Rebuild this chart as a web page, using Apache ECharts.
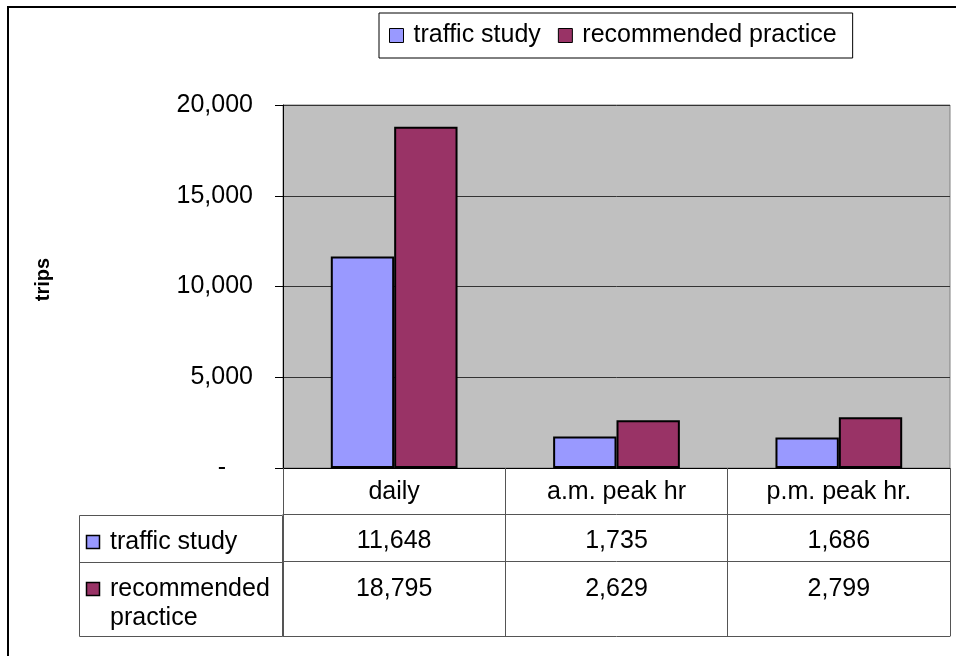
<!DOCTYPE html>
<html>
<head>
<meta charset="utf-8">
<script src="https://cdn.jsdelivr.net/npm/echarts@6/dist/echarts.min.js"></script>
<style>
  html, body { margin: 0; padding: 0; background: #fff; }
  #chart { width: 956px; height: 656px; }
</style>
</head>
<body>
<div id="chart"></div>
<script>
// Trip generation: traffic study vs. recommended practice
const categories = ['daily', 'a.m. peak hr', 'p.m. peak hr.'];
const seriesNames = ['traffic study', 'recommended practice'];
const tableRowLabels = ['traffic study', 'recommended\npractice'];
const trafficStudy = [11648, 1735, 1686];
const recommendedPractice = [18795, 2629, 2799];
const yMin = 0;
const yMax = 20000;
const yStep = 5000;

const colors = ['#9999FF', '#993366'];
const FONT = '"Liberation Sans", Arial, sans-serif';
const fmt = v => v.toLocaleString('en-US');

const chart = echarts.init(document.getElementById('chart'), null, { renderer: 'canvas' });

const tableLine = '#555';
const txt = { color: '#000', fontFamily: FONT, fontSize: 25 };

chart.setOption({
  animation: false,
  backgroundColor: '#fff',
  color: colors,
  textStyle: { fontFamily: FONT },
  legend: {
    data: seriesNames,
    left: 379,
    top: 13,
    padding: [10, 16, 10, 10],
    itemGap: 17,
    itemWidth: 14,
    itemHeight: 14,
    icon: 'rect',
    borderColor: '#000',
    borderWidth: 1,
    itemStyle: { borderColor: '#000', borderWidth: 1 },
    textStyle: Object.assign({ padding: [0, 0, 0, 5] }, txt)
  },
  grid: {
    left: 283,
    top: 105,
    width: 667,
    height: 363,
    show: true,
    backgroundColor: '#C0C0C0',
    borderColor: '#808080',
    borderWidth: 1
  },
  yAxis: {
    type: 'value',
    min: yMin,
    max: yMax,
    interval: yStep,
    name: 'trips',
    nameLocation: 'middle',
    nameRotate: 90,
    nameGap: 230,
    nameTextStyle: { color: '#000', fontFamily: FONT, fontSize: 20, fontWeight: 'bold', padding: [0, 0, 0, 14] },
    axisLine: { show: true, lineStyle: { color: '#000', width: 1 } },
    axisTick: { show: true, length: 8, lineStyle: { color: '#000' } },
    axisLabel: Object.assign({
      margin: 30,
      formatter: v => (v === 0 ? '{d|-}' : fmt(v)),
      rich: { d: Object.assign({ padding: [0, 27, 0, 0] }, txt) }
    }, txt),
    splitLine: { show: true, lineStyle: { color: '#333', width: 1 } }
  },
  xAxis: [
    {
      type: 'category',
      data: categories,
      position: 'bottom',
      offset: 0,
      axisLine: { lineStyle: { color: '#000', width: 1 } },
      axisTick: { show: true, length: 46, lineStyle: { color: tableLine } },
      axisLabel: Object.assign({ margin: 12, interval: 0 }, txt),
      splitLine: { show: false }
    },
    {
      type: 'category',
      data: trafficStudy.map(fmt),
      position: 'bottom',
      offset: 46,
      axisLine: { lineStyle: { color: tableLine, width: 1 } },
      axisTick: { show: true, length: 47, lineStyle: { color: tableLine } },
      axisLabel: Object.assign({ margin: 15, interval: 0 }, txt),
      splitLine: { show: false }
    },
    {
      type: 'category',
      data: recommendedPractice.map(fmt),
      position: 'bottom',
      offset: 93,
      axisLine: { lineStyle: { color: tableLine, width: 1 } },
      axisTick: { show: true, length: 75, lineStyle: { color: tableLine } },
      axisLabel: Object.assign({ margin: 16, interval: 0 }, txt),
      splitLine: { show: false }
    },
    {
      type: 'category',
      data: categories,
      position: 'bottom',
      offset: 168,
      axisLine: { lineStyle: { color: tableLine, width: 1 } },
      axisTick: { show: false },
      axisLabel: { show: false },
      splitLine: { show: false }
    }
  ],
  series: [
    {
      name: seriesNames[0],
      type: 'bar',
      xAxisIndex: 0,
      data: trafficStudy,
      barGap: '0%',
      barCategoryGap: '43%',
      itemStyle: { color: colors[0], borderColor: '#000', borderWidth: 2 }
    },
    {
      name: seriesNames[1],
      type: 'bar',
      xAxisIndex: 0,
      data: recommendedPractice,
      barGap: '0%',
      barCategoryGap: '43%',
      itemStyle: { color: colors[1], borderColor: '#000', borderWidth: 2 }
    }
  ],
  graphic: [
    // outer chart frame
    {
      type: 'rect',
      silent: true,
      shape: { x: 8, y: 7, width: 1000, height: 700 },
      style: { fill: 'none', stroke: '#000', lineWidth: 2 }
    },
    // data-table legend column
    {
      type: 'rect',
      silent: true,
      shape: { x: 79.5, y: 515.5, width: 203, height: 121 },
      style: { fill: 'none', stroke: tableLine, lineWidth: 1 }
    },
    {
      type: 'line',
      silent: true,
      shape: { x1: 79.5, y1: 562.5, x2: 283, y2: 562.5 },
      style: { stroke: tableLine, lineWidth: 1 }
    },
    {
      type: 'rect',
      silent: true,
      shape: { x: 86.5, y: 535.5, width: 13, height: 13 },
      style: { fill: colors[0], stroke: '#000', lineWidth: 1.5 }
    },
    {
      type: 'text',
      silent: true,
      x: 110,
      y: 542.5,
      style: Object.assign({ text: tableRowLabels[0], verticalAlign: 'middle', align: 'left' }, txt)
    },
    {
      type: 'rect',
      silent: true,
      shape: { x: 86.5, y: 582.5, width: 13, height: 13 },
      style: { fill: colors[1], stroke: '#000', lineWidth: 1.5 }
    },
    {
      type: 'text',
      silent: true,
      x: 110,
      y: 575,
      style: Object.assign({ text: tableRowLabels[1], verticalAlign: 'top', align: 'left', lineHeight: 29 }, txt)
    }
  ]
});
</script>
</body>
</html>
